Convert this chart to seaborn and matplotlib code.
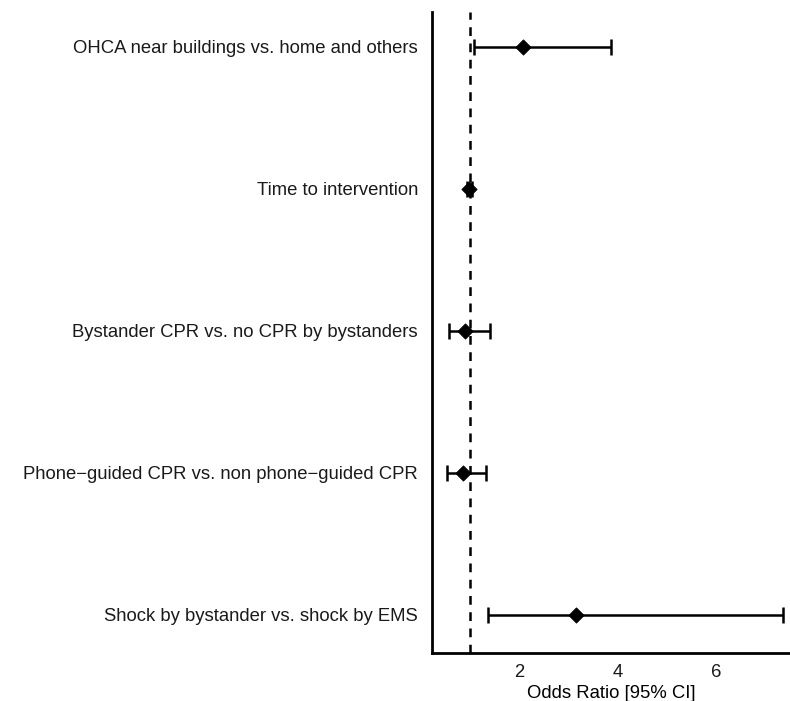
import numpy as np
import pandas as pd
import seaborn as sns
import matplotlib.pyplot as plt

labels = [
    "OHCA near buildings vs. home and others",
    "Time to intervention",
    "Bystander CPR vs. no CPR by bystanders",
    "Phone\u2212guided CPR vs. non phone\u2212guided CPR",
    "Shock by bystander vs. shock by EMS",
]
odds_ratio = [2.07, 0.98, 0.89, 0.85, 3.15]
ci_low = [1.085, 0.93, 0.57, 0.54, 1.36]
ci_high = [3.87, 1.03, 1.40, 1.33, 7.37]

df = pd.DataFrame({"label": labels, "OR": odds_ratio, "lo": ci_low, "hi": ci_high})
df["y"] = np.arange(len(df))

sns.set_style("white")
plt.rcParams["font.family"] = ["Liberation Sans", "DejaVu Sans"]

fig = plt.figure(figsize=(7.9, 7.01), dpi=100)
ax = fig.add_axes([432 / 790, 1 - 653 / 701, 1 - 432 / 790, (653 - 12) / 701])

ax.axvline(1, color="black", linestyle=(0, (3.5, 3)), linewidth=1.8, zorder=1)

# confidence intervals
ax.errorbar(df["OR"], df["y"], xerr=[df["OR"] - df["lo"], df["hi"] - df["OR"]],
            fmt="none", ecolor="black", elinewidth=1.8, capsize=6, capthick=1.8, zorder=2)
sns.scatterplot(data=df, x="OR", y="y", marker="D", s=60, color="black",
                edgecolor="black", ax=ax, zorder=3, legend=False)

ax.set_xlim(0.226, 7.51)
ax.set_ylim(len(df) - 1 + 0.27, -0.245)
ax.set_xticks([2, 4, 6])
ax.set_yticks(df["y"])
ax.set_yticklabels(df["label"])
ax.tick_params(axis="both", length=4, width=1.2, color="#333333", labelsize=13.3,
               labelcolor="#1a1a1a", pad=4)
ax.tick_params(axis="y", pad=6)
ax.set_xlabel("Odds Ratio [95% CI]", fontsize=13.3, color="black", labelpad=3)
ax.set_ylabel("")

sns.despine(ax=ax)
for side in ["left", "bottom"]:
    ax.spines[side].set_linewidth(2)
    ax.spines[side].set_color("black")

fig.savefig("out.png", dpi=100)
